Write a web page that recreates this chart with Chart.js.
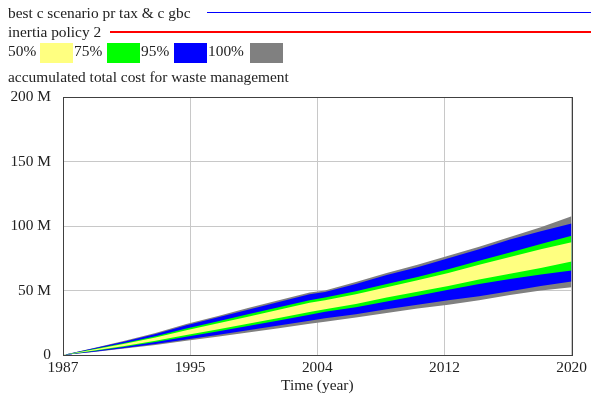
<!DOCTYPE html>
<html>
<head>
<meta charset="utf-8">
<script src="https://cdn.jsdelivr.net/npm/chart.js@4/dist/chart.umd.min.js"></script>
<style>
  html, body { margin: 0; padding: 0; background: #fff; }
  #wrap { position: relative; width: 591px; height: 398px; overflow: hidden; font-family: "Liberation Serif", "Times New Roman", serif; font-size: 15.4px; color: #222; }
  canvas { position: absolute; left: 0; top: 0; }
  .t { position: absolute; line-height: 1; white-space: nowrap; }
  .sw { position: absolute; top: 43px; width: 33px; height: 20px; }
  .ln { position: absolute; }
</style>
</head>
<body>
<div id="wrap">
  <canvas id="c" width="591" height="398"></canvas>
  <div class="t" style="left:8px; top:5.4px;">best c scenario pr tax &amp; c gbc</div>
  <div class="ln" style="left:207px; top:12px; width:384px; height:1px; background:#0000ff;"></div>
  <div class="t" style="left:8px; top:23.8px;">inertia policy 2</div>
  <div class="ln" style="left:110px; top:31px; width:481px; height:2px; background:#ff0000;"></div>
  <div class="t" style="left:8px; top:43.1px;">50%</div>
  <div class="sw" style="left:40px; background:#ffff80;"></div>
  <div class="t" style="left:74px; top:43.1px;">75%</div>
  <div class="sw" style="left:107px; background:#00ff00;"></div>
  <div class="t" style="left:141px; top:43.1px;">95%</div>
  <div class="sw" style="left:174px; background:#0000ff;"></div>
  <div class="t" style="left:208px; top:43.1px;">100%</div>
  <div class="sw" style="left:250px; background:#808080;"></div>
  <div class="t" style="left:8px; top:68.8px;">accumulated total cost for waste management</div>
</div>
<script>
const years = [1987, 1989, 1991, 1993, 1995, 1997, 1999, 2001, 2003, 2004, 2006, 2008, 2010, 2012, 2014, 2016, 2018, 2020];
// Band boundaries (millions)
const grayTop   = [0, 5.5, 11, 17, 24, 30, 36.5, 42.5, 48.5, 50, 56.5, 63.5, 70, 77, 84, 91.5, 99, 107.5];
const blueTop   = [0, 5.2, 10.5, 16.3, 23, 29, 35, 41, 47, 48.8, 55, 62, 68, 75, 82, 89.5, 96, 102];
const greenTop  = [0, 4.6, 9.3, 14.5, 20.5, 26, 31.5, 37, 42.5, 44.5, 49.5, 55, 60.5, 66.5, 73, 79.5, 86, 92.5];
const yellowTop = [0, 4.3, 8.7, 13.6, 19.2, 24.5, 29.7, 35, 40.5, 42.5, 47, 52.5, 58, 63.5, 70, 76, 82, 87.5];
const yellowBot = [0, 3.4, 7, 11, 15.5, 19.8, 24.2, 28.7, 33.3, 35.5, 39.5, 44.5, 49, 53.5, 58.5, 63, 67.5, 72.5];
const greenBot  = [0, 3.1, 6.4, 10.1, 14.2, 18.3, 22.5, 26.8, 31.2, 33.5, 37, 41.5, 46, 50.5, 55, 59, 62.5, 65.5];
const blueBot   = [0, 2.6, 5.4, 8.5, 12, 15.5, 19.2, 22.8, 26.5, 28.4, 31.5, 35.5, 39, 42.5, 45.5, 49.5, 53.5, 57];
const grayBot   = [0, 2.4, 5, 7.8, 11, 14.2, 17.5, 20.8, 24.2, 25.8, 29, 32.5, 36, 39, 42.5, 46.5, 50, 52.5];
// Tick positions and labels
const xTicks = [1987, 1995.25, 2003.5, 2011.75, 2020];
const xTickLabels = ['1987', '1995', '2004', '2012', '2020'];
const yTicks = [0, 50e6, 100e6, 150e6, 200e6];
const yTickLabels = ['0', '50 M', '100 M', '150 M', '200 M'];

const pts = arr => arr.map((v, i) => ({ x: years[i], y: v * 1e6 }));
function band(arr, color, fillTarget) {
  return {
    data: pts(arr),
    borderWidth: 0,
    borderColor: 'rgba(0,0,0,0)',
    pointRadius: 0,
    tension: 0,
    backgroundColor: color,
    fill: fillTarget === null ? false : { target: fillTarget }
  };
}

const FONT = { family: '"Liberation Serif", "Times New Roman", serif', size: 15.4 };

const borderBox = {
  id: 'borderBox',
  afterDraw(chart) {
    const a = chart.chartArea, ctx = chart.ctx;
    ctx.save();
    ctx.strokeStyle = '#404040';
    ctx.lineWidth = 1;
    ctx.strokeRect(Math.round(a.left) + 0.5, Math.round(a.top) + 0.5, Math.round(a.right - a.left) - 0, Math.round(a.bottom - a.top));
    ctx.restore();
  }
};

new Chart(document.getElementById('c'), {
  type: 'line',
  data: {
    datasets: [
      band(yellowTop, '#ffff80', 1),
      band(yellowBot, '#ffff80', null),
      band(greenTop, '#00ff00', 3),
      band(greenBot, '#00ff00', null),
      band(blueTop, '#0000ff', 5),
      band(blueBot, '#0000ff', null),
      band(grayTop, '#808080', 7),
      band(grayBot, '#808080', null)
    ]
  },
  options: {
    responsive: false,
    animation: false,
    devicePixelRatio: 1,
    layout: { padding: { top: 97, right: 18, left: 0, bottom: 0 } },
    plugins: { legend: { display: false }, tooltip: { enabled: false } },
    elements: { line: { borderWidth: 0 } },
    scales: {
      x: {
        type: 'linear',
        min: 1987, max: 2020,
        z: 1,
        afterFit(s) { s.height = 43; },
        afterBuildTicks(s) { s.ticks = xTicks.map(v => ({ value: v })); },
        ticks: {
          autoSkip: false, maxRotation: 0, padding: 4,
          color: '#222', font: FONT,
          callback(v) { const i = xTicks.indexOf(v); return i >= 0 ? xTickLabels[i] : ''; }
        },
        grid: { color: '#c8c8c8', drawTicks: false, lineWidth: 1 },
        border: { color: '#404040', width: 1 },
        title: { display: true, text: 'Time (year)', color: '#222', font: FONT, padding: { top: 0, bottom: 3 } }
      },
      y: {
        min: 0, max: 200e6,
        z: 1,
        afterFit(s) { s.width = 63; },
        afterBuildTicks(s) { s.ticks = yTicks.map(v => ({ value: v })); },
        ticks: {
          padding: 12, color: '#222', font: FONT,
          callback(v) { const i = yTicks.indexOf(v); return i >= 0 ? yTickLabels[i] : ''; }
        },
        grid: { color: '#c8c8c8', drawTicks: false, lineWidth: 1 },
        border: { color: '#404040', width: 1 }
      }
    }
  },
  plugins: [borderBox]
});
</script>
</body>
</html>
